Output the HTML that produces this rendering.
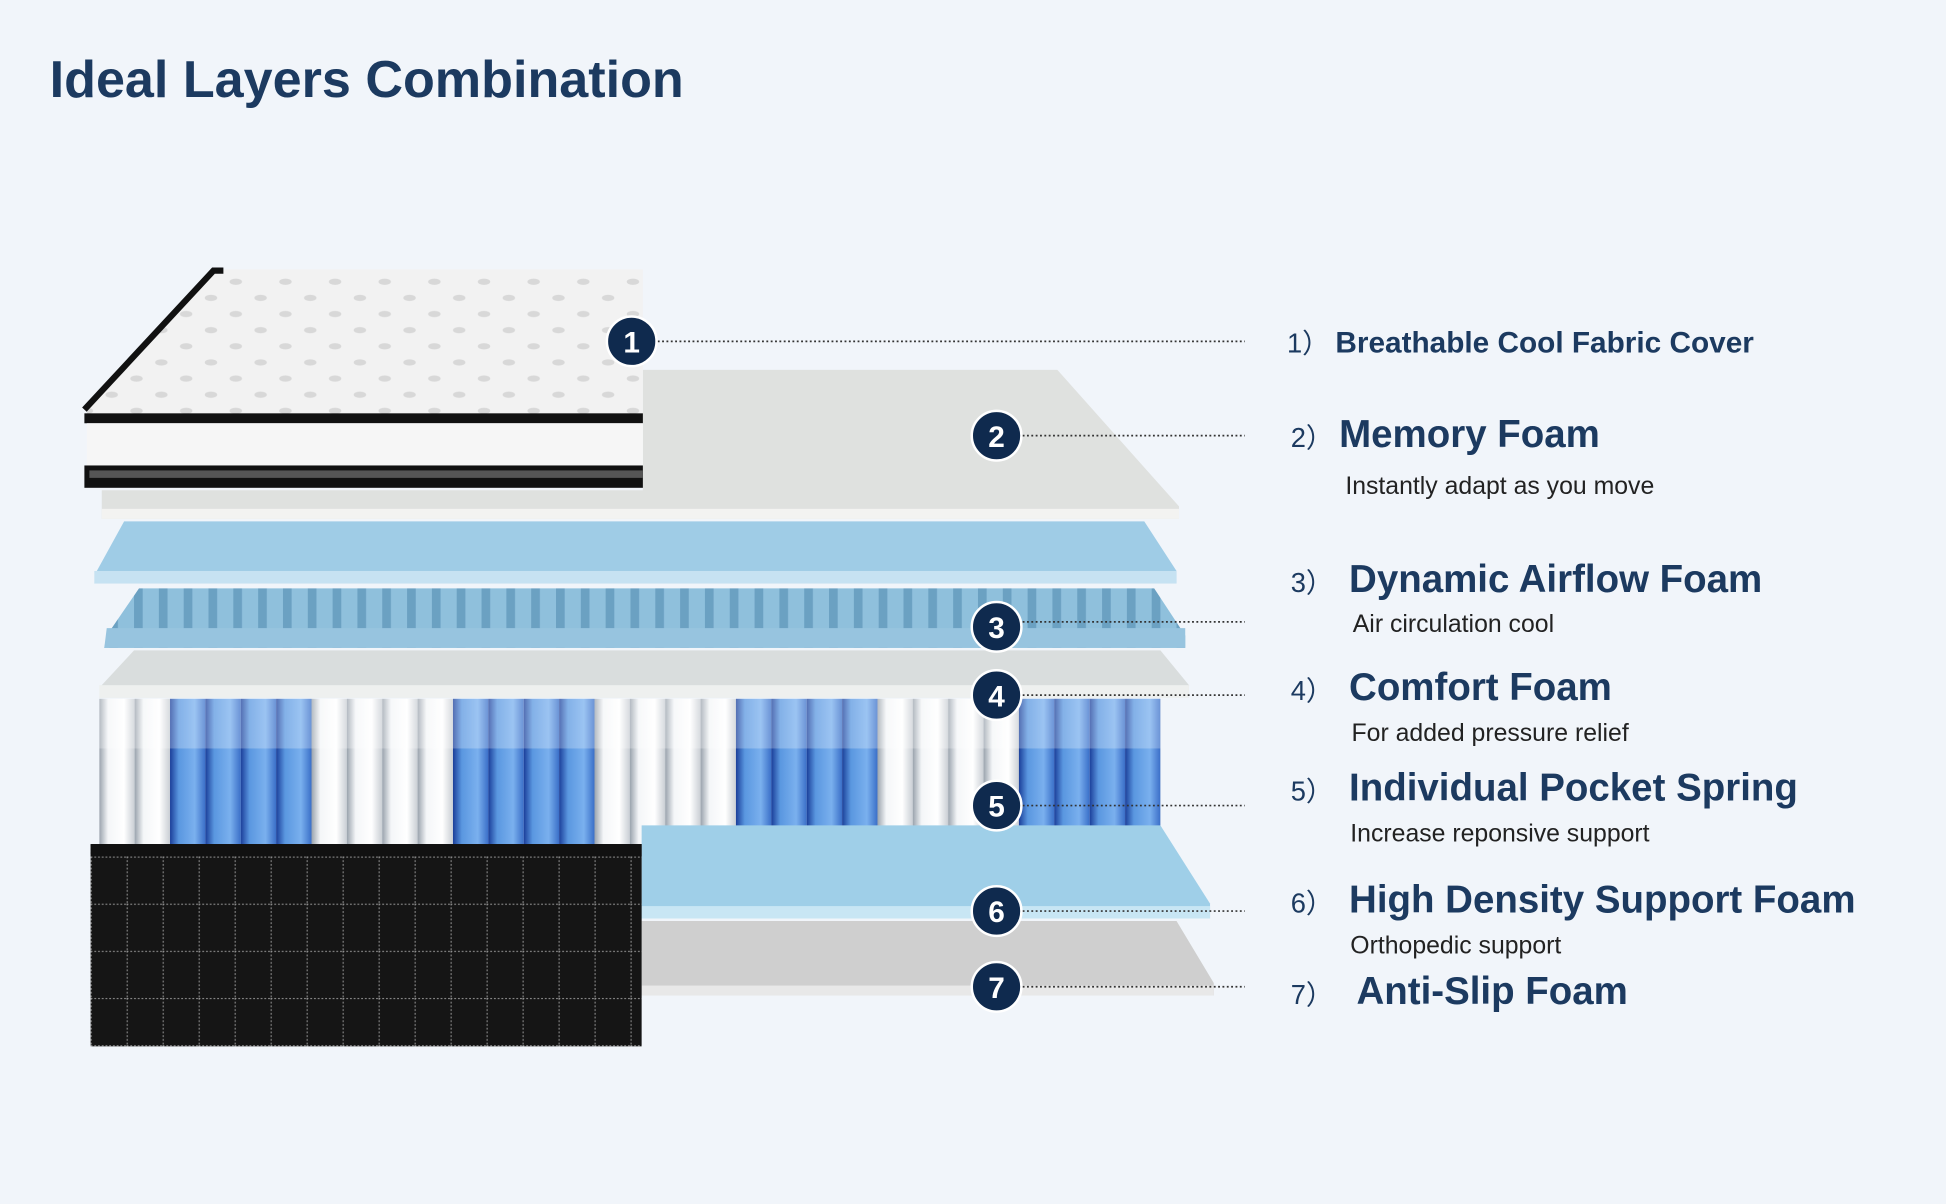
<!DOCTYPE html>
<html><head><meta charset="utf-8"><style>
html,body{margin:0;padding:0;background:#f1f5fa;}
svg{display:block;}
</style></head><body>
<svg width="1946" height="1204" viewBox="0 0 1568 970" preserveAspectRatio="none" xmlns="http://www.w3.org/2000/svg">
<defs>
<linearGradient id="wc" x1="0" x2="1"><stop offset="0" stop-color="#9aa3ad"/><stop offset="0.25" stop-color="#f4f6f8"/><stop offset="0.7" stop-color="#ffffff"/><stop offset="1" stop-color="#c9ced4"/></linearGradient>
<linearGradient id="bc" x1="0" x2="1"><stop offset="0" stop-color="#1b3f9a"/><stop offset="0.25" stop-color="#5a97e0"/><stop offset="0.7" stop-color="#7ab0ee"/><stop offset="1" stop-color="#3a6fc8"/></linearGradient>
<pattern id="spr" patternUnits="userSpaceOnUse" x="137" y="0" width="228" height="970">
<rect x="0" y="0" width="28.5" height="970" fill="url(#bc)"/>
<rect x="28.5" y="0" width="28.5" height="970" fill="url(#bc)"/>
<rect x="57" y="0" width="28.5" height="970" fill="url(#bc)"/>
<rect x="85.5" y="0" width="28.5" height="970" fill="url(#bc)"/>
<rect x="114" y="0" width="28.5" height="970" fill="url(#wc)"/>
<rect x="142.5" y="0" width="28.5" height="970" fill="url(#wc)"/>
<rect x="171" y="0" width="28.5" height="970" fill="url(#wc)"/>
<rect x="199.5" y="0" width="28.5" height="970" fill="url(#wc)"/>
</pattern>
<pattern id="rib" patternUnits="userSpaceOnUse" x="0" y="0" width="20" height="40">
<rect width="20" height="40" fill="#8fc0dc"/>
<rect x="8" width="7" height="40" fill="#4f87ad" opacity="0.55"/>
</pattern>
<pattern id="grid" patternUnits="userSpaceOnUse" x="73" y="690" width="29" height="38">
<rect width="29" height="38" fill="#151515"/>
<path d="M0 0.5H29M0.5 0V38" stroke="#999" stroke-width="0.8" stroke-dasharray="1.5 1.5"/>
</pattern>
<pattern id="quilt" patternUnits="userSpaceOnUse" width="40" height="26">
<rect width="40" height="26" fill="#f2f2f2"/>
<ellipse cx="10" cy="6" rx="5" ry="2.5" fill="#d8d8d8"/>
<ellipse cx="30" cy="19" rx="5" ry="2.5" fill="#d8d8d8"/>
</pattern>
</defs>
<rect width="1568" height="970" fill="#f1f5fa"/>
<text x="40" y="78" font-family="Liberation Sans, sans-serif" font-weight="bold" font-size="42" fill="#1c3a60">Ideal Layers Combination</text>

<polygon points="518,298 852,298 950,408 950,418 82,418 82,395 518,395" fill="#dfe1df"/>
<polygon points="82,410 950,410 950,418 82,418" fill="#f3f3f1"/>
<polygon points="100,420 922,420 948,460 948,470 76,470 78,460" fill="#9fcce6"/>
<rect x="76" y="460" width="872" height="10" fill="#c6e2f2"/>
<polygon points="112,474 930,474 955,512 955,522 84,522 86,512" fill="url(#rib)"/>
<polygon points="86,506 955,506 955,522 84,522" fill="#97c4df"/>
<polygon points="108,524 935,524 958,552 958,562 80,562 82,552" fill="#d9dddd"/>
<rect x="80" y="552" width="878" height="10" fill="#eef0ef"/>
<rect x="80" y="563" width="855" height="117" fill="url(#spr)"/>
<rect x="80" y="563" width="855" height="40" fill="#ffffff" opacity="0.25"/>
<polygon points="517,665 935,665 975,728 975,740 517,740" fill="#9fcfe8"/>
<rect x="517" y="730" width="458" height="10" fill="#c8e6f4"/>
<polygon points="517,742 948,742 978,792 978,802 517,802" fill="#cfcfcf"/>
<rect x="517" y="794" width="461" height="8" fill="#e8e8e8"/>
<rect x="73" y="680" width="444" height="163" fill="url(#grid)"/>
<rect x="73" y="680" width="444" height="10" fill="#111"/>
<polygon points="70,325 175,217 518,217 518,335 70,335" fill="url(#quilt)"/>
<path d="M68,330 L172,218 L180,218" stroke="#111" stroke-width="5" fill="none"/>
<rect x="68" y="333" width="450" height="8" fill="#111"/>
<rect x="70" y="341" width="448" height="34" fill="#f6f6f6"/>
<rect x="68" y="375" width="450" height="18" fill="#111"/>
<rect x="72" y="379" width="446" height="6" fill="#555"/>

<g stroke="#333" stroke-width="1.4" stroke-dasharray="1.5 2" fill="none">
<line x1="509" y1="275" x2="1003" y2="275"/>
<line x1="803" y1="351" x2="1003" y2="351"/>
<line x1="803" y1="501" x2="1003" y2="501"/>
<line x1="803" y1="560" x2="1003" y2="560"/>
<line x1="803" y1="649" x2="1003" y2="649"/>
<line x1="803" y1="734" x2="1003" y2="734"/>
<line x1="803" y1="795" x2="1003" y2="795"/>
</g>
<g fill="#0f2a4e" stroke="#fff" stroke-width="2">
<circle cx="509" cy="275" r="20"/><circle cx="803" cy="351" r="20"/><circle cx="803" cy="505" r="20"/>
<circle cx="803" cy="560" r="20"/><circle cx="803" cy="649" r="20"/><circle cx="803" cy="734" r="20"/><circle cx="803" cy="795" r="20"/>
</g>
<g fill="#fff" font-family="Liberation Sans, sans-serif" font-weight="bold" font-size="24" text-anchor="middle">
<text x="509" y="284">1</text><text x="803" y="360">2</text><text x="803" y="514">3</text><text x="803" y="569">4</text><text x="803" y="658">5</text><text x="803" y="743">6</text><text x="803" y="804">7</text>
</g>
<g font-family="Liberation Sans, sans-serif" fill="#1c3a60">
<text x="1037" y="284" font-size="22">1）<tspan x="1076" font-weight="bold" font-size="24">Breathable Cool Fabric Cover</tspan></text>
<text x="1040" y="360" font-size="22">2）<tspan x="1079" font-weight="bold" font-size="31">Memory Foam</tspan></text>
<text x="1084" y="398" font-size="20" fill="#222">Instantly adapt as you move</text>
<text x="1040" y="477" font-size="22">3）<tspan x="1087" font-weight="bold" font-size="31">Dynamic  Airflow Foam</tspan></text>
<text x="1090" y="509" font-size="20" fill="#222">Air circulation cool</text>
<text x="1040" y="564" font-size="22">4）<tspan x="1087" font-weight="bold" font-size="31">Comfort Foam</tspan></text>
<text x="1089" y="597" font-size="20" fill="#222">For added  pressure relief</text>
<text x="1040" y="645" font-size="22">5）<tspan x="1087" font-weight="bold" font-size="31">Individual Pocket Spring</tspan></text>
<text x="1088" y="678" font-size="20" fill="#222">Increase reponsive support</text>
<text x="1040" y="735" font-size="22">6）<tspan x="1087" font-weight="bold" font-size="31">High Density Support Foam</tspan></text>
<text x="1088" y="768" font-size="20" fill="#222">Orthopedic support</text>
<text x="1040" y="809" font-size="22">7）<tspan x="1093" font-weight="bold" font-size="31">Anti-Slip Foam</tspan></text>
</g>
</svg>
</body></html>
